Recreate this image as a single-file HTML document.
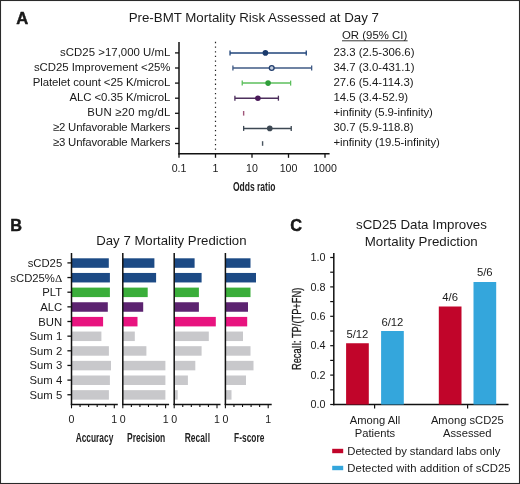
<!DOCTYPE html>
<html><head><meta charset="utf-8"><style>
html,body{margin:0;padding:0;background:#fff;width:520px;height:484px;overflow:hidden}
svg{display:block;will-change:transform}
text{font-family:"Liberation Sans",sans-serif}
</style></head><body>
<svg width="520" height="484" viewBox="0 0 520 484" font-family="Liberation Sans, sans-serif" fill="#1a1a1a"><text x="16.2" y="24" font-size="16.6" text-anchor="start" font-weight="700" stroke="#111" stroke-width="0.45" stroke-linejoin="round">A</text>
<text x="253.8" y="21.6" font-size="13.3" text-anchor="middle" font-weight="400" >Pre-BMT Mortality Risk Assessed at Day 7</text>
<text x="342" y="38.9" font-size="11.4" text-anchor="start" font-weight="400" >OR (95% CI)</text>
<line x1="342" y1="40.8" x2="407.6" y2="40.8" stroke="#222" stroke-width="0.9" />
<text x="170.4" y="55.8" font-size="11.4" text-anchor="end" font-weight="400" textLength="110.3">sCD25 &gt;17,000 U/mL</text>
<text x="333.4" y="55.8" font-size="11.4" text-anchor="start" font-weight="400" >23.3 (2.5-306.6)</text>
<line x1="175" y1="52.9" x2="179" y2="52.9" stroke="#111" stroke-width="1.3" />
<text x="170.4" y="70.9" font-size="11.4" text-anchor="end" font-weight="400" textLength="136.5">sCD25 Improvement &lt;25%</text>
<text x="333.4" y="70.9" font-size="11.4" text-anchor="start" font-weight="400" >34.7 (3.0-431.1)</text>
<line x1="175" y1="68.0" x2="179" y2="68.0" stroke="#111" stroke-width="1.3" />
<text x="170.4" y="86.0" font-size="11.4" text-anchor="end" font-weight="400" textLength="137.6">Platelet count &lt;25 K/microL</text>
<text x="333.4" y="86.0" font-size="11.4" text-anchor="start" font-weight="400" >27.6 (5.4-114.3)</text>
<line x1="175" y1="83.1" x2="179" y2="83.1" stroke="#111" stroke-width="1.3" />
<text x="170.4" y="101.1" font-size="11.4" text-anchor="end" font-weight="400" textLength="100.9">ALC &lt;0.35 K/microL</text>
<text x="333.4" y="101.1" font-size="11.4" text-anchor="start" font-weight="400" >14.5 (3.4-52.9)</text>
<line x1="175" y1="98.19999999999999" x2="179" y2="98.19999999999999" stroke="#111" stroke-width="1.3" />
<text x="170.4" y="116.2" font-size="11.4" text-anchor="end" font-weight="400" textLength="83.1">BUN ≥20 mg/dL</text>
<text x="333.4" y="116.2" font-size="11.4" text-anchor="start" font-weight="400" textLength="99.5">+infinity (5.9-infinity)</text>
<line x1="175" y1="113.3" x2="179" y2="113.3" stroke="#111" stroke-width="1.3" />
<text x="170.4" y="131.3" font-size="11.4" text-anchor="end" font-weight="400" textLength="117.5">≥2 Unfavorable Markers</text>
<text x="333.4" y="131.3" font-size="11.4" text-anchor="start" font-weight="400" >30.7 (5.9-118.8)</text>
<line x1="175" y1="128.4" x2="179" y2="128.4" stroke="#111" stroke-width="1.3" />
<text x="170.4" y="146.4" font-size="11.4" text-anchor="end" font-weight="400" textLength="117.5">≥3 Unfavorable Markers</text>
<text x="333.4" y="146.4" font-size="11.4" text-anchor="start" font-weight="400" textLength="106.5">+infinity (19.5-infinity)</text>
<line x1="175" y1="143.5" x2="179" y2="143.5" stroke="#111" stroke-width="1.3" />
<line x1="179" y1="42" x2="179" y2="154.4" stroke="#111" stroke-width="1.5" />
<line x1="178.3" y1="153.8" x2="329.6" y2="153.8" stroke="#111" stroke-width="1.4" />
<line x1="179.0" y1="153.8" x2="179.0" y2="157.8" stroke="#111" stroke-width="1.3" />
<text x="179.0" y="172.2" font-size="10.6" text-anchor="middle" font-weight="400" >0.1</text>
<line x1="215.5" y1="153.8" x2="215.5" y2="157.8" stroke="#111" stroke-width="1.3" />
<text x="215.5" y="172.2" font-size="10.6" text-anchor="middle" font-weight="400" >1</text>
<line x1="252.0" y1="153.8" x2="252.0" y2="157.8" stroke="#111" stroke-width="1.3" />
<text x="252.0" y="172.2" font-size="10.6" text-anchor="middle" font-weight="400" >10</text>
<line x1="288.5" y1="153.8" x2="288.5" y2="157.8" stroke="#111" stroke-width="1.3" />
<text x="288.5" y="172.2" font-size="10.6" text-anchor="middle" font-weight="400" >100</text>
<line x1="325.0" y1="153.8" x2="325.0" y2="157.8" stroke="#111" stroke-width="1.3" />
<text x="325.0" y="172.2" font-size="10.6" text-anchor="middle" font-weight="400" >1000</text>
<line x1="215.5" y1="41.85" x2="215.5" y2="152" stroke="#222" stroke-width="1.2" stroke-dasharray="1.3 3.34"/>
<text x="254.2" y="190.9" font-size="12.7" text-anchor="middle" font-weight="700" textLength="42.6" lengthAdjust="spacingAndGlyphs" fill="#222">Odds ratio</text>
<line x1="230.02481031652937" y1="52.9" x2="306.25988349392003" y2="52.9" stroke="#21457a" stroke-width="1.5" />
<line x1="230.02481031652937" y1="50.4" x2="230.02481031652937" y2="55.4" stroke="#21457a" stroke-width="1.3" />
<line x1="306.25988349392003" y1="50.4" x2="306.25988349392003" y2="55.4" stroke="#21457a" stroke-width="1.3" />
<circle cx="265.40849111744967" cy="52.9" r="2.8" fill="#1a3a6c"/>
<line x1="232.91492579726767" y1="68.0" x2="311.6620978341669" y2="68.0" stroke="#3f5a85" stroke-width="1.5" />
<line x1="232.91492579726767" y1="65.5" x2="232.91492579726767" y2="70.5" stroke="#3f5a85" stroke-width="1.3" />
<line x1="311.6620978341669" y1="65.5" x2="311.6620978341669" y2="70.5" stroke="#3f5a85" stroke-width="1.3" />
<circle cx="271.7220258298669" cy="68.0" r="2.4" fill="#c5cfdf" stroke="#233f6e" stroke-width="1.3"/>
<line x1="242.23237223353834" y1="83.1" x2="290.61868740942776" y2="83.1" stroke="#5cbf5c" stroke-width="1.5" />
<line x1="242.23237223353834" y1="80.6" x2="242.23237223353834" y2="85.6" stroke="#5cbf5c" stroke-width="1.3" />
<line x1="290.61868740942776" y1="80.6" x2="290.61868740942776" y2="85.6" stroke="#5cbf5c" stroke-width="1.3" />
<circle cx="268.09318149538046" cy="83.1" r="2.8" fill="#2f9e3a"/>
<line x1="234.8989804720423" y1="98.19999999999999" x2="278.40613202928427" y2="98.19999999999999" stroke="#4d2f5c" stroke-width="1.5" />
<line x1="234.8989804720423" y1="95.69999999999999" x2="234.8989804720423" y2="100.69999999999999" stroke="#4d2f5c" stroke-width="1.3" />
<line x1="278.40613202928427" y1="95.69999999999999" x2="278.40613202928427" y2="100.69999999999999" stroke="#4d2f5c" stroke-width="1.3" />
<circle cx="257.8899320815766" cy="98.19999999999999" r="2.8" fill="#4a1a5a"/>
<line x1="243.63609842493827" y1="111.0" x2="243.63609842493827" y2="115.6" stroke="#a0567a" stroke-width="1.4" />
<line x1="243.63609842493827" y1="128.4" x2="291.2308000835489" y2="128.4" stroke="#3d4853" stroke-width="1.5" />
<line x1="243.63609842493827" y1="125.9" x2="243.63609842493827" y2="130.9" stroke="#3d4853" stroke-width="1.3" />
<line x1="291.2308000835489" y1="125.9" x2="291.2308000835489" y2="130.9" stroke="#3d4853" stroke-width="1.3" />
<circle cx="269.7805507049173" cy="128.4" r="2.8" fill="#3d4853"/>
<line x1="262.5862633147319" y1="141.2" x2="262.5862633147319" y2="145.8" stroke="#4a5560" stroke-width="1.4" />
<text x="10.2" y="230.7" font-size="16.3" text-anchor="start" font-weight="700" stroke="#111" stroke-width="0.45" stroke-linejoin="round">B</text>
<text x="171.4" y="245.4" font-size="13.2" text-anchor="middle" font-weight="400" >Day 7 Mortality Prediction</text>
<rect x="71.5" y="258.29999999999995" width="37.3" height="9.5" fill="#1c4a85"/>
<rect x="71.5" y="272.94999999999993" width="38.400000000000006" height="9.5" fill="#1c4a85"/>
<rect x="71.5" y="287.59999999999997" width="38.400000000000006" height="9.5" fill="#3aae3a"/>
<rect x="71.5" y="302.24999999999994" width="36.3" height="9.5" fill="#5c2370"/>
<rect x="71.5" y="316.9" width="31.599999999999994" height="9.5" fill="#e8137f"/>
<rect x="71.5" y="331.54999999999995" width="29.900000000000006" height="9.5" fill="#c8c8cb"/>
<rect x="71.5" y="346.19999999999993" width="37.400000000000006" height="9.5" fill="#c8c8cb"/>
<rect x="71.5" y="360.84999999999997" width="39.5" height="9.5" fill="#c8c8cb"/>
<rect x="71.5" y="375.49999999999994" width="38.400000000000006" height="9.5" fill="#c8c8cb"/>
<rect x="71.5" y="390.15" width="37.400000000000006" height="9.5" fill="#c8c8cb"/>
<line x1="71.5" y1="253" x2="71.5" y2="404.9" stroke="#111" stroke-width="1.5" />
<line x1="70.8" y1="404.6" x2="117.8" y2="404.6" stroke="#111" stroke-width="1.5" />
<line x1="71.5" y1="404.6" x2="71.5" y2="408.3" stroke="#111" stroke-width="1.1" />
<line x1="80.06" y1="404.6" x2="80.06" y2="407.0" stroke="#111" stroke-width="1.1" />
<line x1="88.62" y1="404.6" x2="88.62" y2="407.0" stroke="#111" stroke-width="1.1" />
<line x1="97.17999999999999" y1="404.6" x2="97.17999999999999" y2="407.0" stroke="#111" stroke-width="1.1" />
<line x1="105.74" y1="404.6" x2="105.74" y2="407.0" stroke="#111" stroke-width="1.1" />
<line x1="114.3" y1="404.6" x2="114.3" y2="408.3" stroke="#111" stroke-width="1.1" />
<text x="71.5" y="423.4" font-size="10.6" text-anchor="middle" font-weight="400" >0</text>
<text x="114.3" y="423.4" font-size="10.6" text-anchor="middle" font-weight="400" >1</text>
<rect x="122.8" y="258.29999999999995" width="31.60000000000001" height="9.5" fill="#1c4a85"/>
<rect x="122.8" y="272.94999999999993" width="33.3" height="9.5" fill="#1c4a85"/>
<rect x="122.8" y="287.59999999999997" width="24.89999999999999" height="9.5" fill="#3aae3a"/>
<rect x="122.8" y="302.24999999999994" width="20.39999999999999" height="9.5" fill="#5c2370"/>
<rect x="122.8" y="316.9" width="14.700000000000003" height="9.5" fill="#e8137f"/>
<rect x="122.8" y="331.54999999999995" width="12.000000000000014" height="9.5" fill="#c8c8cb"/>
<rect x="122.8" y="346.19999999999993" width="23.60000000000001" height="9.5" fill="#c8c8cb"/>
<rect x="122.8" y="360.84999999999997" width="42.60000000000001" height="9.5" fill="#c8c8cb"/>
<rect x="122.8" y="375.49999999999994" width="42.60000000000001" height="9.5" fill="#c8c8cb"/>
<rect x="122.8" y="390.15" width="42.60000000000001" height="9.5" fill="#c8c8cb"/>
<line x1="122.8" y1="253" x2="122.8" y2="404.9" stroke="#111" stroke-width="1.5" />
<line x1="122.1" y1="404.6" x2="169.1" y2="404.6" stroke="#111" stroke-width="1.5" />
<line x1="122.8" y1="404.6" x2="122.8" y2="408.3" stroke="#111" stroke-width="1.1" />
<line x1="131.35999999999999" y1="404.6" x2="131.35999999999999" y2="407.0" stroke="#111" stroke-width="1.1" />
<line x1="139.92" y1="404.6" x2="139.92" y2="407.0" stroke="#111" stroke-width="1.1" />
<line x1="148.48" y1="404.6" x2="148.48" y2="407.0" stroke="#111" stroke-width="1.1" />
<line x1="157.04" y1="404.6" x2="157.04" y2="407.0" stroke="#111" stroke-width="1.1" />
<line x1="165.6" y1="404.6" x2="165.6" y2="408.3" stroke="#111" stroke-width="1.1" />
<text x="122.8" y="423.4" font-size="10.6" text-anchor="middle" font-weight="400" >0</text>
<text x="165.6" y="423.4" font-size="10.6" text-anchor="middle" font-weight="400" >1</text>
<rect x="174.2" y="258.29999999999995" width="20.400000000000006" height="9.5" fill="#1c4a85"/>
<rect x="174.2" y="272.94999999999993" width="27.400000000000006" height="9.5" fill="#1c4a85"/>
<rect x="174.2" y="287.59999999999997" width="24.700000000000017" height="9.5" fill="#3aae3a"/>
<rect x="174.2" y="302.24999999999994" width="24.700000000000017" height="9.5" fill="#5c2370"/>
<rect x="174.2" y="316.9" width="41.60000000000002" height="9.5" fill="#e8137f"/>
<rect x="174.2" y="331.54999999999995" width="34.60000000000002" height="9.5" fill="#c8c8cb"/>
<rect x="174.2" y="346.19999999999993" width="27.400000000000006" height="9.5" fill="#c8c8cb"/>
<rect x="174.2" y="360.84999999999997" width="21.100000000000023" height="9.5" fill="#c8c8cb"/>
<rect x="174.2" y="375.49999999999994" width="13.700000000000017" height="9.5" fill="#c8c8cb"/>
<rect x="174.2" y="390.15" width="3.5" height="9.5" fill="#c8c8cb"/>
<line x1="174.2" y1="253" x2="174.2" y2="404.9" stroke="#111" stroke-width="1.5" />
<line x1="173.5" y1="404.6" x2="220.5" y2="404.6" stroke="#111" stroke-width="1.5" />
<line x1="174.2" y1="404.6" x2="174.2" y2="408.3" stroke="#111" stroke-width="1.1" />
<line x1="182.76" y1="404.6" x2="182.76" y2="407.0" stroke="#111" stroke-width="1.1" />
<line x1="191.32" y1="404.6" x2="191.32" y2="407.0" stroke="#111" stroke-width="1.1" />
<line x1="199.88" y1="404.6" x2="199.88" y2="407.0" stroke="#111" stroke-width="1.1" />
<line x1="208.44" y1="404.6" x2="208.44" y2="407.0" stroke="#111" stroke-width="1.1" />
<line x1="217.0" y1="404.6" x2="217.0" y2="408.3" stroke="#111" stroke-width="1.1" />
<text x="174.2" y="423.4" font-size="10.6" text-anchor="middle" font-weight="400" >0</text>
<text x="217.0" y="423.4" font-size="10.6" text-anchor="middle" font-weight="400" >1</text>
<rect x="225.4" y="258.29999999999995" width="25.099999999999994" height="9.5" fill="#1c4a85"/>
<rect x="225.4" y="272.94999999999993" width="30.599999999999994" height="9.5" fill="#1c4a85"/>
<rect x="225.4" y="287.59999999999997" width="25.099999999999994" height="9.5" fill="#3aae3a"/>
<rect x="225.4" y="302.24999999999994" width="22.599999999999994" height="9.5" fill="#5c2370"/>
<rect x="225.4" y="316.9" width="21.799999999999983" height="9.5" fill="#e8137f"/>
<rect x="225.4" y="331.54999999999995" width="17.599999999999994" height="9.5" fill="#c8c8cb"/>
<rect x="225.4" y="346.19999999999993" width="25.099999999999994" height="9.5" fill="#c8c8cb"/>
<rect x="225.4" y="360.84999999999997" width="28.099999999999994" height="9.5" fill="#c8c8cb"/>
<rect x="225.4" y="375.49999999999994" width="20.599999999999994" height="9.5" fill="#c8c8cb"/>
<rect x="225.4" y="390.15" width="6.099999999999994" height="9.5" fill="#c8c8cb"/>
<line x1="225.4" y1="253" x2="225.4" y2="404.9" stroke="#111" stroke-width="1.5" />
<line x1="224.70000000000002" y1="404.6" x2="271.7" y2="404.6" stroke="#111" stroke-width="1.5" />
<line x1="225.4" y1="404.6" x2="225.4" y2="408.3" stroke="#111" stroke-width="1.1" />
<line x1="233.96" y1="404.6" x2="233.96" y2="407.0" stroke="#111" stroke-width="1.1" />
<line x1="242.52" y1="404.6" x2="242.52" y2="407.0" stroke="#111" stroke-width="1.1" />
<line x1="251.08" y1="404.6" x2="251.08" y2="407.0" stroke="#111" stroke-width="1.1" />
<line x1="259.64" y1="404.6" x2="259.64" y2="407.0" stroke="#111" stroke-width="1.1" />
<line x1="268.2" y1="404.6" x2="268.2" y2="408.3" stroke="#111" stroke-width="1.1" />
<text x="225.4" y="423.4" font-size="10.6" text-anchor="middle" font-weight="400" >0</text>
<text x="268.2" y="423.4" font-size="10.6" text-anchor="middle" font-weight="400" >1</text>
<text x="62.2" y="266.9" font-size="11.3" text-anchor="end" font-weight="400" >sCD25</text>
<line x1="67.4" y1="262.9" x2="71.5" y2="262.9" stroke="#111" stroke-width="1.3" />
<text x="62.2" y="281.54999999999995" font-size="11.3" text-anchor="end" font-weight="400" >sCD25%<tspan font-family='Liberation Serif'>Δ</tspan></text>
<line x1="67.4" y1="277.54999999999995" x2="71.5" y2="277.54999999999995" stroke="#111" stroke-width="1.3" />
<text x="62.2" y="296.2" font-size="11.3" text-anchor="end" font-weight="400" >PLT</text>
<line x1="67.4" y1="292.2" x2="71.5" y2="292.2" stroke="#111" stroke-width="1.3" />
<text x="62.2" y="310.84999999999997" font-size="11.3" text-anchor="end" font-weight="400" >ALC</text>
<line x1="67.4" y1="306.84999999999997" x2="71.5" y2="306.84999999999997" stroke="#111" stroke-width="1.3" />
<text x="62.2" y="325.5" font-size="11.3" text-anchor="end" font-weight="400" >BUN</text>
<line x1="67.4" y1="321.5" x2="71.5" y2="321.5" stroke="#111" stroke-width="1.3" />
<text x="62.2" y="340.15" font-size="11.3" text-anchor="end" font-weight="400" >Sum 1</text>
<line x1="67.4" y1="336.15" x2="71.5" y2="336.15" stroke="#111" stroke-width="1.3" />
<text x="62.2" y="354.79999999999995" font-size="11.3" text-anchor="end" font-weight="400" >Sum 2</text>
<line x1="67.4" y1="350.79999999999995" x2="71.5" y2="350.79999999999995" stroke="#111" stroke-width="1.3" />
<text x="62.2" y="369.45" font-size="11.3" text-anchor="end" font-weight="400" >Sum 3</text>
<line x1="67.4" y1="365.45" x2="71.5" y2="365.45" stroke="#111" stroke-width="1.3" />
<text x="62.2" y="384.09999999999997" font-size="11.3" text-anchor="end" font-weight="400" >Sum 4</text>
<line x1="67.4" y1="380.09999999999997" x2="71.5" y2="380.09999999999997" stroke="#111" stroke-width="1.3" />
<text x="62.2" y="398.75" font-size="11.3" text-anchor="end" font-weight="400" >Sum 5</text>
<line x1="67.4" y1="394.75" x2="71.5" y2="394.75" stroke="#111" stroke-width="1.3" />
<text x="94.5" y="442.1" font-size="12.7" text-anchor="middle" font-weight="700" textLength="37.6" lengthAdjust="spacingAndGlyphs" fill="#222">Accuracy</text>
<text x="146.2" y="442.1" font-size="12.7" text-anchor="middle" font-weight="700" textLength="38.199999999999996" lengthAdjust="spacingAndGlyphs" fill="#222">Precision</text>
<text x="197.35" y="442.1" font-size="12.7" text-anchor="middle" font-weight="700" textLength="25.29999999999999" lengthAdjust="spacingAndGlyphs" fill="#222">Reca<tspan dx='0.35'>l</tspan><tspan dx='0.35'>l</tspan></text>
<text x="249.2" y="442.1" font-size="12.7" text-anchor="middle" font-weight="700" textLength="30.199999999999996" lengthAdjust="spacingAndGlyphs" fill="#222">F-score</text>
<text x="290.2" y="231" font-size="16.3" text-anchor="start" font-weight="700" stroke="#111" stroke-width="0.45" stroke-linejoin="round">C</text>
<text x="421.5" y="229" font-size="13.3" text-anchor="middle" font-weight="400" >sCD25 Data Improves</text>
<text x="421.2" y="245.6" font-size="13.3" text-anchor="middle" font-weight="400" >Mortality Prediction</text>
<line x1="333.8" y1="253" x2="333.8" y2="405.2" stroke="#111" stroke-width="1.5" />
<line x1="333.1" y1="404.5" x2="508.5" y2="404.5" stroke="#111" stroke-width="1.4" />
<line x1="330.2" y1="404.5" x2="333.8" y2="404.5" stroke="#111" stroke-width="1.2" />
<text x="325.4" y="408.2" font-size="10.8" text-anchor="end" font-weight="400" >0.0</text>
<line x1="330.2" y1="389.8" x2="333.8" y2="389.8" stroke="#111" stroke-width="1.2" />
<line x1="330.2" y1="375.1" x2="333.8" y2="375.1" stroke="#111" stroke-width="1.2" />
<text x="325.4" y="378.8" font-size="10.8" text-anchor="end" font-weight="400" >0.2</text>
<line x1="330.2" y1="360.4" x2="333.8" y2="360.4" stroke="#111" stroke-width="1.2" />
<line x1="330.2" y1="345.7" x2="333.8" y2="345.7" stroke="#111" stroke-width="1.2" />
<text x="325.4" y="349.4" font-size="10.8" text-anchor="end" font-weight="400" >0.4</text>
<line x1="330.2" y1="331.0" x2="333.8" y2="331.0" stroke="#111" stroke-width="1.2" />
<line x1="330.2" y1="316.3" x2="333.8" y2="316.3" stroke="#111" stroke-width="1.2" />
<text x="325.4" y="320.0" font-size="10.8" text-anchor="end" font-weight="400" >0.6</text>
<line x1="330.2" y1="301.6" x2="333.8" y2="301.6" stroke="#111" stroke-width="1.2" />
<line x1="330.2" y1="286.9" x2="333.8" y2="286.9" stroke="#111" stroke-width="1.2" />
<text x="325.4" y="290.59999999999997" font-size="10.8" text-anchor="end" font-weight="400" >0.8</text>
<line x1="330.2" y1="272.2" x2="333.8" y2="272.2" stroke="#111" stroke-width="1.2" />
<line x1="330.2" y1="257.5" x2="333.8" y2="257.5" stroke="#111" stroke-width="1.2" />
<text x="325.4" y="261.2" font-size="10.8" text-anchor="end" font-weight="400" >1.0</text>
<line x1="374.6" y1="404.5" x2="374.6" y2="408.5" stroke="#111" stroke-width="1.2" />
<line x1="467.6" y1="404.5" x2="467.6" y2="408.5" stroke="#111" stroke-width="1.2" />
<rect x="346.1" y="343.25" width="22.7" height="61.25" fill="#c1052a"/>
<rect x="381.1" y="331.0" width="22.7" height="73.5" fill="#34a6dc"/>
<rect x="438.8" y="306.5" width="22.7" height="98.0" fill="#c1052a"/>
<rect x="473.5" y="282.0" width="22.7" height="122.5" fill="#34a6dc"/>
<text x="357.4" y="338.2" font-size="11.3" text-anchor="middle" font-weight="400" >5/12</text>
<text x="392.4" y="326.2" font-size="11.3" text-anchor="middle" font-weight="400" >6/12</text>
<text x="450.1" y="300.6" font-size="11.3" text-anchor="middle" font-weight="400" >4/6</text>
<text x="484.8" y="276.2" font-size="11.3" text-anchor="middle" font-weight="400" >5/6</text>
<text x="375" y="423.9" font-size="11.2" text-anchor="middle" font-weight="400" >Among All</text>
<text x="375" y="437.4" font-size="11.2" text-anchor="middle" font-weight="400" >Patients</text>
<text x="467.3" y="423.9" font-size="11.2" text-anchor="middle" font-weight="400" >Among sCD25</text>
<text x="467.3" y="437.4" font-size="11.2" text-anchor="middle" font-weight="400" >Assessed</text>
<text transform="translate(300.8,328.9) rotate(-90)" font-size="12.2" font-weight="400" fill="#1a1a1a" stroke="#1a1a1a" stroke-width="0.3" text-anchor="middle" textLength="82.3" lengthAdjust="spacingAndGlyphs">Reca<tspan dx="0.6">l</tspan><tspan dx="0.6">l</tspan><tspan dx="0.3">:</tspan> TP/(TP+FN)</text>
<rect x="332.2" y="448.8" width="11" height="4.4" fill="#c1052a"/>
<rect x="332.2" y="465.8" width="11" height="4.4" fill="#34a6dc"/>
<text x="347.3" y="454.6" font-size="11.3" text-anchor="start" font-weight="400" textLength="153">Detected by standard labs only</text>
<text x="347.3" y="471.5" font-size="11.3" text-anchor="start" font-weight="400" textLength="163.3">Detected with addition of sCD25</text>
<rect x="0.5" y="0.5" width="519" height="483" fill="none" stroke="#2a2a2a" stroke-width="1.1"/></svg>
</body></html>
